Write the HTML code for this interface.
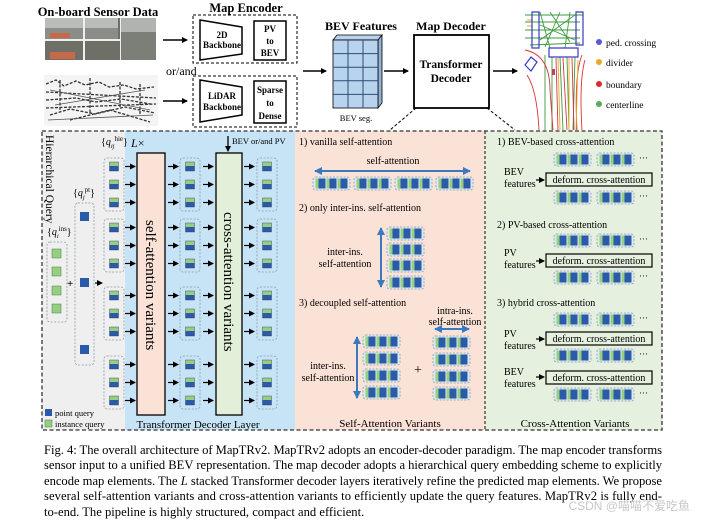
<!DOCTYPE html>
<html><head><meta charset="utf-8"><style>
html,body{margin:0;padding:0;background:#fff;}
svg{display:block;font-family:"Liberation Serif",serif;}
</style></head><body>
<svg width="704" height="523" viewBox="0 0 704 523" xmlns="http://www.w3.org/2000/svg">
<defs>
<marker id="ah" markerWidth="6" markerHeight="6" refX="5" refY="3" orient="auto" markerUnits="userSpaceOnUse"><path d="M0,0 L6,3 L0,6 z" fill="#000"/></marker>
<marker id="ab" markerWidth="8" markerHeight="8" refX="7" refY="4" orient="auto-start-reverse" markerUnits="userSpaceOnUse"><path d="M0,0 L8,4 L0,8 z" fill="#3a78c0"/></marker>
<g id="hq"><rect x="0" y="0" width="9" height="9" fill="#2a5ba8"/><rect x="0" y="0" width="9" height="4" fill="#95cf7f"/><rect x="0" y="0" width="9" height="9" fill="none" stroke="#335" stroke-width="0.4"/></g>
<g id="tile"><rect x="0" y="0" width="10" height="10" fill="#2a5ba8"/><rect x="0" y="0" width="3" height="10" fill="#95cf7f"/></g>
<g id="grp"><rect x="0" y="0" width="37" height="13" rx="2.5" fill="#dde8ef" stroke="#8a9bb0" stroke-width="0.8" stroke-dasharray="2,1.5"/><use href="#tile" x="2.5" y="1.5"/><use href="#tile" x="13.5" y="1.5"/><use href="#tile" x="24.5" y="1.5"/></g>
<g id="col"><rect x="0" y="0" width="20" height="53" rx="3" fill="none" stroke="#8a9bb0" stroke-width="0.8" stroke-dasharray="2,1.5"/><use href="#hq" x="5.5" y="4"/><use href="#hq" x="5.5" y="22"/><use href="#hq" x="5.5" y="40"/></g>
<g id="arr3"><line x1="0" y1="8.5" x2="10" y2="8.5" stroke="#000" stroke-width="1.2" marker-end="url(#ah)"/><line x1="0" y1="26.5" x2="10" y2="26.5" stroke="#000" stroke-width="1.2" marker-end="url(#ah)"/><line x1="0" y1="44.5" x2="10" y2="44.5" stroke="#000" stroke-width="1.2" marker-end="url(#ah)"/></g>
</defs>

<!-- TOP -->
<text x="98" y="16" font-size="12.5" font-weight="bold" text-anchor="middle">On-board Sensor Data</text>
<rect x="45" y="18" width="75" height="42" fill="#6e7068"/>
<rect x="45" y="18" width="73" height="22" fill="#8a8d88"/>
<rect x="45" y="18" width="73" height="10" fill="#b9bcb8"/>
<rect x="83" y="18" width="2" height="42" fill="#eee"/><rect x="45" y="39" width="75" height="2" fill="#eee"/><rect x="120" y="18" width="2" height="42" fill="#eee"/>
<rect x="121" y="18" width="35" height="42" fill="#7c7f78"/><rect x="121" y="18" width="35" height="14" fill="#b0b3ae"/>
<rect x="50" y="33" width="20" height="5" fill="#c66a4a"/><rect x="50" y="52" width="25" height="7" fill="#c66a4a"/>
<rect x="44" y="75" width="114" height="51" fill="#f4f4f4"/>
<path d="M46,84 l10,-4 l8,6 l12,-5 l9,4 l14,-3 l10,5 l15,-2 l12,4 l18,-2 M46,100 l30,-2 l20,4 l25,-3 l30,5 M50,115 l20,-6 l25,5 l30,-7 l30,6 M60,80 v30 M90,78 v35 M120,82 v25 M140,84 v30 M46,92 l110,6 M46,108 l110,-4 M70,120 l40,-10 l40,12" stroke="#333" stroke-width="1.3" fill="none" stroke-dasharray="3,1.5"/>
<path d="M50,90 l100,20 M55,105 l90,-15 M48,120 l105,-5" stroke="#555" stroke-width="0.8" fill="none"/>
<line x1="163" y1="40" x2="187" y2="40" stroke="#000" stroke-width="1.5" marker-end="url(#ah)"/>
<line x1="163" y1="101" x2="187" y2="101" stroke="#000" stroke-width="1.5" marker-end="url(#ah)"/>
<text x="166" y="75" font-size="12">or/and</text>
<text x="246" y="12" font-size="12.5" font-weight="bold" text-anchor="middle">Map Encoder</text>
<rect x="193" y="15" width="104" height="48" fill="none" stroke="#000" stroke-dasharray="3,2"/>
<rect x="193" y="76" width="104" height="51" fill="none" stroke="#000" stroke-dasharray="3,2"/>
<path d="M200,20 L242,27 L242,54 L200,60 z" fill="none" stroke="#000" stroke-width="1.5"/>
<text x="222" y="38" font-size="9" font-weight="bold" text-anchor="middle">2D</text>
<text x="222" y="48" font-size="9" font-weight="bold" text-anchor="middle">Backbone</text>
<rect x="254" y="21" width="32" height="39" fill="none" stroke="#000" stroke-width="1.5"/>
<text x="270" y="32" font-size="9" font-weight="bold" text-anchor="middle">PV</text>
<text x="270" y="44" font-size="9" font-weight="bold" text-anchor="middle">to</text>
<text x="270" y="56" font-size="9" font-weight="bold" text-anchor="middle">BEV</text>
<path d="M200,80 L242,87 L242,115 L200,122 z" fill="none" stroke="#000" stroke-width="1.5"/>
<text x="222" y="99" font-size="9" font-weight="bold" text-anchor="middle">LiDAR</text>
<text x="222" y="110" font-size="9" font-weight="bold" text-anchor="middle">Backbone</text>
<rect x="254" y="81" width="32" height="42" fill="none" stroke="#000" stroke-width="1.5"/>
<text x="270" y="93" font-size="9" font-weight="bold" text-anchor="middle">Sparse</text>
<text x="270" y="106" font-size="9" font-weight="bold" text-anchor="middle">to</text>
<text x="270" y="119" font-size="9" font-weight="bold" text-anchor="middle">Dense</text>
<line x1="303" y1="71" x2="326" y2="71" stroke="#000" stroke-width="1.5" marker-end="url(#ah)"/>
<text x="361" y="30" font-size="12" font-weight="bold" text-anchor="middle">BEV Features</text>
<path d="M333,40 L337,35 L382,35 L378,40 z" fill="#b8d3ee" stroke="#000" stroke-width="0.8"/>
<path d="M378,40 L382,35 L382,103 L378,108 z" fill="#8fb3da" stroke="#000" stroke-width="0.8"/>
<rect x="333" y="40" width="45" height="68" fill="#b8d3ee" stroke="#000" stroke-width="0.8"/>
<path d="M348,40 v68 M363,40 v68 M333,53.6 h45 M333,67.2 h45 M333,80.8 h45 M333,94.4 h45" stroke="#2c4d73" stroke-width="1"/>
<text x="356" y="121" font-size="8.5" text-anchor="middle">BEV seg.</text>
<line x1="384" y1="71" x2="408" y2="71" stroke="#000" stroke-width="1.5" marker-end="url(#ah)"/>
<text x="451" y="30" font-size="12" font-weight="bold" text-anchor="middle">Map Decoder</text>
<rect x="414" y="35" width="75" height="73" fill="#fff" stroke="#000" stroke-width="1.8"/>
<text x="451" y="68" font-size="11.5" font-weight="bold" text-anchor="middle">Transformer</text>
<text x="451" y="82" font-size="11.5" font-weight="bold" text-anchor="middle">Decoder</text>
<line x1="493" y1="71" x2="517" y2="71" stroke="#000" stroke-width="1.5" marker-end="url(#ah)"/>
<line x1="416" y1="108" x2="390" y2="130" stroke="#000" stroke-dasharray="3,2"/>
<line x1="487" y1="108" x2="515" y2="130" stroke="#000" stroke-dasharray="3,2"/>
<!-- map -->
<g fill="none" stroke-width="0.9">
<path d="M525,15 h58 M525,22 h55 M525,30 h55 M525,38 h55 M540,12 l10,36 M550,12 l20,30 M560,12 l-15,35 M570,12 l-5,36 M540,25 l35,15 M540,40 l35,-25 M545,55 v75 M552,57 v73 M560,57 l3,73 M567,57 l2,73 M575,57 l-2,73 M530,45 l50,-2" stroke="#3c9a3c"/>
<path d="M525,50 q25,5 25,40 l3,40 M527,75 q10,15 12,55 M556,58 l2,72 M563,58 l4,72 M572,58 l2,72 M582,55 q-8,20 -5,75 M585,60 q-6,20 -3,70" stroke="#d8343a"/>
<path d="M558,58 l2,72 M569,58 l0,72 M578,60 l-2,70 M527,20 h6 M527,26 h6" stroke="#e8a825"/>
<path d="M532,12 h7 v36 h-7 z M576,12 h7 v33 h-7 z M549,48 h29 v9 h-29 z M525,65 l6,-8 l6,5 l-6,9 z" stroke="#3a3ac8" stroke-width="1.2"/>
<rect x="552" y="69" width="3" height="6" fill="#c43c6a"/>
</g>
<circle cx="599" cy="42" r="3" fill="#5a5ad8"/><text x="606" y="46" font-size="9.5">ped. crossing</text>
<circle cx="599" cy="62" r="3" fill="#e8a825"/><text x="606" y="66" font-size="9.5">divider</text>
<circle cx="599" cy="84" r="3" fill="#e0282e"/><text x="606" y="88" font-size="9.5">boundary</text>
<circle cx="599" cy="104" r="3" fill="#5aaa5a"/><text x="606" y="108" font-size="9.5">centerline</text>

<!-- BOTTOM PANEL -->
<rect x="42" y="131" width="83" height="299" fill="#efefef"/>
<rect x="125" y="131" width="170" height="299" fill="#c7e3f6"/>
<rect x="295" y="131" width="190" height="299" fill="#fbe2d6"/>
<rect x="485" y="131" width="177" height="299" fill="#e5f0de"/>
<rect x="42" y="131" width="620" height="299" fill="none" stroke="#333" stroke-width="1.3" stroke-dasharray="4,2.5"/>
<line x1="485" y1="131" x2="485" y2="430" stroke="#333" stroke-width="1.2" stroke-dasharray="3,2"/>

<text transform="translate(46,135) rotate(90)" font-size="11.5">Hierarchical Query</text>
<text x="47" y="235" font-size="10">{<tspan font-style="italic">q</tspan><tspan font-size="6.5" dy="3" font-style="italic">i</tspan><tspan font-size="7" dy="-7">ins</tspan><tspan dy="4">}</tspan></text>
<rect x="47" y="242" width="20" height="80" rx="3" fill="none" stroke="#8a9bb0" stroke-width="0.8" stroke-dasharray="2,1.5"/>
<g fill="#95cf7f" stroke="#4a7a4a" stroke-width="0.5"><rect x="52" y="249" width="9" height="9"/><rect x="52" y="267" width="9" height="9"/><rect x="52" y="286" width="9" height="9"/><rect x="52" y="304" width="9" height="9"/></g>
<text x="67" y="287" font-size="11" font-weight="bold">+</text>
<text x="73" y="196" font-size="10">{<tspan font-style="italic">q</tspan><tspan font-size="6.5" dy="3" font-style="italic">j</tspan><tspan font-size="7" dy="-7">pt</tspan><tspan dy="4">}</tspan></text>
<rect x="75" y="203" width="19" height="162" rx="3" fill="none" stroke="#8a9bb0" stroke-width="0.8" stroke-dasharray="2,1.5"/>
<g fill="#2a5ba8"><rect x="80" y="212" width="9" height="9"/><rect x="80" y="278" width="9" height="9"/><rect x="80" y="345" width="9" height="9"/></g>
<line x1="95" y1="283" x2="102" y2="283" stroke="#000" stroke-width="1.2" marker-end="url(#ah)"/>
<text x="101" y="145" font-size="10">{<tspan font-style="italic">q</tspan><tspan font-size="6.5" dy="3" font-style="italic">ij</tspan><tspan font-size="7" dy="-7">hie</tspan><tspan dy="4">}</tspan></text>
<text x="131" y="147" font-size="12" font-style="italic">L<tspan font-style="normal">×</tspan></text>

<use href="#col" x="104" y="158"/><use href="#col" x="104" y="219"/><use href="#col" x="104" y="287"/><use href="#col" x="104" y="356"/>
<use href="#arr3" x="125" y="158"/><use href="#arr3" x="125" y="219"/><use href="#arr3" x="125" y="287"/><use href="#arr3" x="125" y="356"/>
<rect x="137" y="153" width="28" height="262" fill="#fbe2d6" stroke="#000" stroke-width="1.3"/>
<text transform="translate(146,220) rotate(90)" font-size="15">self-attention variants</text>
<use href="#arr3" x="168" y="158"/><use href="#arr3" x="168" y="219"/><use href="#arr3" x="168" y="287"/><use href="#arr3" x="168" y="356"/>
<use href="#col" x="180" y="158"/><use href="#col" x="180" y="219"/><use href="#col" x="180" y="287"/><use href="#col" x="180" y="356"/>
<use href="#arr3" x="203" y="158"/><use href="#arr3" x="203" y="219"/><use href="#arr3" x="203" y="287"/><use href="#arr3" x="203" y="356"/>
<rect x="216" y="153" width="26" height="262" fill="#e2f0d9" stroke="#000" stroke-width="1.3"/>
<text transform="translate(224,212) rotate(90)" font-size="15">cross-attention variants</text>
<line x1="228" y1="136" x2="228" y2="151" stroke="#000" stroke-width="1.3" marker-end="url(#ah)"/>
<text x="232" y="144" font-size="8.5">BEV or/and PV</text>
<use href="#arr3" x="244" y="158"/><use href="#arr3" x="244" y="219"/><use href="#arr3" x="244" y="287"/><use href="#arr3" x="244" y="356"/>
<use href="#col" x="257" y="158"/><use href="#col" x="257" y="219"/><use href="#col" x="257" y="287"/><use href="#col" x="257" y="356"/>
<rect x="45" y="409" width="7" height="7" fill="#2a5ba8"/><text x="55" y="416" font-size="8.5">point query</text>
<rect x="45" y="420" width="7" height="7" fill="#95cf7f" stroke="#4a7a4a" stroke-width="0.5"/><text x="55" y="427" font-size="8.5">instance query</text>
<text x="198" y="428" font-size="11" text-anchor="middle">Transformer Decoder Layer</text>

<!-- self-attention variants -->
<text x="299" y="145" font-size="10">1) vanilla self-attention</text>
<text x="393" y="164" font-size="10" text-anchor="middle">self-attention</text>
<line x1="315" y1="171" x2="470" y2="171" stroke="#3a78c0" stroke-width="2" marker-start="url(#ab)" marker-end="url(#ab)"/>
<use href="#grp" x="313" y="177"/><use href="#grp" x="354" y="177"/><use href="#grp" x="395" y="177"/><use href="#grp" x="436" y="177"/>
<text x="299" y="211" font-size="10">2) only inter-ins. self-attention</text>
<line x1="381" y1="228" x2="381" y2="287" stroke="#3a78c0" stroke-width="2" marker-start="url(#ab)" marker-end="url(#ab)"/>
<use href="#grp" x="387" y="227"/><use href="#grp" x="387" y="243"/><use href="#grp" x="387" y="259"/><use href="#grp" x="387" y="276"/>
<text x="345" y="255" font-size="10" text-anchor="middle">inter-ins.</text>
<text x="345" y="267" font-size="10" text-anchor="middle">self-attention</text>
<text x="299" y="306" font-size="10">3) decoupled self-attention</text>
<line x1="357" y1="337" x2="357" y2="398" stroke="#3a78c0" stroke-width="2" marker-start="url(#ab)" marker-end="url(#ab)"/>
<use href="#grp" x="363" y="335"/><use href="#grp" x="363" y="352"/><use href="#grp" x="363" y="369"/><use href="#grp" x="363" y="386"/>
<text x="328" y="369" font-size="10" text-anchor="middle">inter-ins.</text>
<text x="328" y="381" font-size="10" text-anchor="middle">self-attention</text>
<text x="418" y="374" font-size="14" text-anchor="middle">+</text>
<text x="455" y="314" font-size="10" text-anchor="middle">intra-ins.</text>
<text x="455" y="325" font-size="10" text-anchor="middle">self-attention</text>
<line x1="435" y1="329" x2="469" y2="329" stroke="#3a78c0" stroke-width="2" marker-start="url(#ab)" marker-end="url(#ab)"/>
<use href="#grp" x="433" y="336"/><use href="#grp" x="433" y="353"/><use href="#grp" x="433" y="370"/><use href="#grp" x="433" y="387"/>
<text x="390" y="427" font-size="11" text-anchor="middle">Self-Attention Variants</text>

<!-- cross-attention variants -->
<text x="497" y="145" font-size="10">1) BEV-based cross-attention</text>
<use href="#grp" x="554" y="153"/><use href="#grp" x="597" y="153"/><text x="639" y="161" font-size="9">···</text>
<text x="504" y="175" font-size="10">BEV</text><text x="504" y="187" font-size="10">features</text>
<line x1="536" y1="180" x2="544" y2="180" stroke="#000" stroke-width="1.2" marker-end="url(#ah)"/>
<rect x="546" y="173" width="106" height="13" fill="none" stroke="#000" stroke-width="1.2"/>
<text x="599" y="183" font-size="10" text-anchor="middle">deform. cross-attention</text>
<use href="#grp" x="554" y="191"/><use href="#grp" x="597" y="191"/><text x="639" y="199" font-size="9">···</text>
<text x="497" y="228" font-size="10">2) PV-based cross-attention</text>
<use href="#grp" x="554" y="234"/><use href="#grp" x="597" y="234"/><text x="639" y="242" font-size="9">···</text>
<text x="504" y="256" font-size="10">PV</text><text x="504" y="268" font-size="10">features</text>
<line x1="536" y1="261" x2="544" y2="261" stroke="#000" stroke-width="1.2" marker-end="url(#ah)"/>
<rect x="546" y="254" width="106" height="13" fill="none" stroke="#000" stroke-width="1.2"/>
<text x="599" y="264" font-size="10" text-anchor="middle">deform. cross-attention</text>
<use href="#grp" x="554" y="271"/><use href="#grp" x="597" y="271"/><text x="639" y="279" font-size="9">···</text>
<text x="497" y="306" font-size="10">3) hybrid cross-attention</text>
<use href="#grp" x="554" y="313"/><use href="#grp" x="597" y="313"/><text x="639" y="321" font-size="9">···</text>
<text x="504" y="337" font-size="10">PV</text><text x="504" y="349" font-size="10">features</text>
<line x1="536" y1="339" x2="544" y2="339" stroke="#000" stroke-width="1.2" marker-end="url(#ah)"/>
<rect x="546" y="332" width="106" height="13" fill="none" stroke="#000" stroke-width="1.2"/>
<text x="599" y="342" font-size="10" text-anchor="middle">deform. cross-attention</text>
<use href="#grp" x="554" y="349"/><use href="#grp" x="597" y="349"/><text x="639" y="357" font-size="9">···</text>
<text x="504" y="375" font-size="10">BEV</text><text x="504" y="387" font-size="10">features</text>
<line x1="536" y1="377" x2="544" y2="377" stroke="#000" stroke-width="1.2" marker-end="url(#ah)"/>
<rect x="546" y="371" width="106" height="13" fill="none" stroke="#000" stroke-width="1.2"/>
<text x="599" y="381" font-size="10" text-anchor="middle">deform. cross-attention</text>
<use href="#grp" x="554" y="388"/><use href="#grp" x="597" y="388"/><text x="639" y="396" font-size="9">···</text>
<text x="575" y="427" font-size="11" text-anchor="middle">Cross-Attention Variants</text>

<!-- caption -->
<g font-size="12.6">
<text x="44" y="454" textLength="618" lengthAdjust="spacing">Fig. 4: The overall architecture of MapTRv2. MapTRv2 adopts an encoder-decoder paradigm. The map encoder transforms</text>
<text x="44" y="469" textLength="618" lengthAdjust="spacing">sensor input to a unified BEV representation. The map decoder adopts a hierarchical query embedding scheme to explicitly</text>
<text x="44" y="485" textLength="618" lengthAdjust="spacing">encode map elements. The <tspan font-style="italic">L</tspan> stacked Transformer decoder layers iteratively refine the predicted map elements. We propose</text>
<text x="44" y="500" textLength="618" lengthAdjust="spacing">several self-attention variants and cross-attention variants to efficiently update the query features. MapTRv2 is fully end-</text>
<text x="44" y="516">to-end. The pipeline is highly structured, compact and efficient.</text>
</g>
<text x="690" y="510" font-size="12" fill="#c8c8c8" text-anchor="end" font-family="Liberation Sans, Noto Sans CJK SC, sans-serif">CSDN @喵喵不爱吃鱼</text>
</svg>
</body></html>
